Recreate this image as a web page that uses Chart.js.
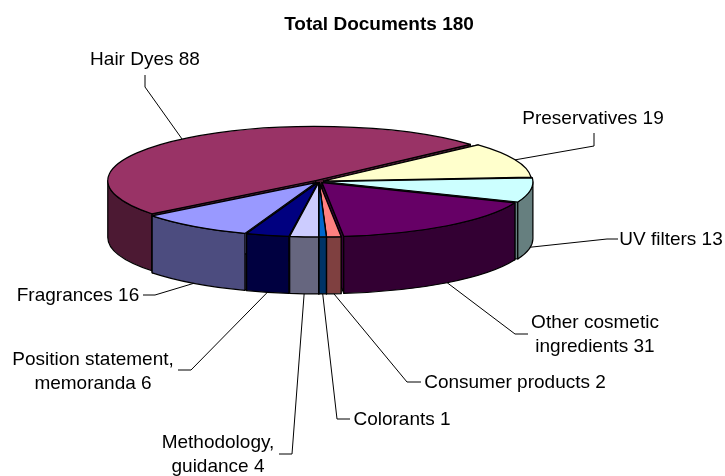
<!DOCTYPE html>
<html>
<head>
<meta charset="utf-8">
<style>
  html, body { margin: 0; padding: 0; background: #fff; }
  canvas { display: block; }
</style>
<script src="https://cdn.jsdelivr.net/npm/chart.js@4/dist/chart.umd.min.js"></script>
</head>
<body>
<canvas id="pie3d" width="725" height="476"></canvas>
<script>
const categories = ['Hair Dyes', 'Preservatives', 'UV filters', 'Other cosmetic ingredients',
  'Consumer products', 'Colorants', 'Methodology, guidance', 'Position statement, memoranda', 'Fragrances'];
const documents = [88, 19, 13, 31, 2, 1, 4, 6, 16];
const topColors = ['#993366', '#FFFFCC', '#CCFFFF', '#660066', '#FF8080', '#0066CC', '#CCCCFF', '#000080', '#9999FF'];
const explode = [5, 5, 6, 5, 5, 5, 5, 5, 5];
const chartTitle = 'Total Documents 180';

// where the flattened pie sits on the page
const VIEW = { cx: 319, cy: 181.5, tilt: 0.26, depth: 57, radius: 208 };

// label placement, one entry per category: text lines, text centre, leader elbows
const labelLayout = [
  { lines: ['Hair Dyes 88'], x: 145, y: 60, leader: [[145, 87], [145, 75]] },
  { lines: ['Preservatives 19'], x: 593, y: 119, leader: [[594, 146], [594, 133]] },
  { lines: ['UV filters 13'], x: 671, y: 240, leader: [[607, 239], [618, 239]] },
  { lines: ['Other cosmetic', 'ingredients 31'], x: 595, y: 323, leader: [[515, 334], [528, 334]] },
  { lines: ['Consumer products 2'], x: 515, y: 383, leader: [[407, 382], [421, 382]] },
  { lines: ['Colorants 1'], x: 402, y: 420, leader: [[337, 419], [350, 419]] },
  { lines: ['Methodology,', 'guidance 4'], x: 218, y: 443, leader: [[292, 454], [279, 454]] },
  { lines: ['Position statement,', 'memoranda 6'], x: 93, y: 360, leader: [[191, 370], [178, 370]] },
  { lines: ['Fragrances 16'], x: 78, y: 296, leader: [[155, 295], [143, 295]] }
];

const halfTone = hex => {
  const n = parseInt(hex.slice(1), 16);
  return `rgb(${(n >> 16) >> 1},${((n >> 8) & 255) >> 1},${(n & 255) >> 1})`;
};

const TWO_PI = Math.PI * 2;

// the parts of [a0, a1] that face the viewer
const frontRanges = (a0, a1) => {
  const out = [];
  for (let k = -1; k < 3; k++) {
    const from = Math.max(a0, k * TWO_PI);
    const to = Math.min(a1, k * TWO_PI + Math.PI);
    if (to > from) out.push([from, to]);
  }
  return out;
};

const drawSlice = (ctx, arc, i) => {
  const { tilt, depth } = VIEW;
  const a0 = arc.startAngle;
  const a1 = arc.endAngle;
  const mid = (a0 + a1) / 2;
  const R = arc.outerRadius;
  const off = arc.options.offset;
  const cx = VIEW.cx + Math.cos(mid) * off;
  const cy = VIEW.cy + Math.sin(mid) * off * tilt;
  const top = topColors[i];
  const wall = halfTone(top);

  ctx.lineWidth = 1.2;
  ctx.lineJoin = 'round';
  ctx.strokeStyle = '#000';

  // radial cut faces
  [a0, a1].forEach(a => {
    const rx = cx + Math.cos(a) * R;
    const ry = cy + Math.sin(a) * R * tilt;
    ctx.beginPath();
    ctx.moveTo(cx, cy);
    ctx.lineTo(rx, ry);
    ctx.lineTo(rx, ry + depth);
    ctx.lineTo(cx, cy + depth);
    ctx.closePath();
    ctx.fillStyle = wall;
    ctx.fill();
    ctx.stroke();
  });

  // outer wall
  frontRanges(a0, a1).forEach(([from, to]) => {
    ctx.beginPath();
    ctx.ellipse(cx, cy, R, R * tilt, 0, from, to);
    ctx.ellipse(cx, cy + depth, R, R * tilt, 0, to, from, true);
    ctx.closePath();
    ctx.fillStyle = wall;
    ctx.fill();
    ctx.stroke();
  });

  // top face
  ctx.beginPath();
  ctx.moveTo(cx, cy);
  ctx.ellipse(cx, cy, R, R * tilt, 0, a0, a1);
  ctx.closePath();
  ctx.fillStyle = top;
  ctx.fill();
  ctx.stroke();
};

const pie3dPlugin = {
  id: 'pie3d',
  beforeDatasetsDraw(chart) {
    const ctx = chart.ctx;
    const arcs = chart.getDatasetMeta(0).data;
    const order = arcs.map((arc, i) => i).sort((p, q) => {
      const m = i => (arcs[i].startAngle + arcs[i].endAngle) / 2;
      return Math.sin(m(p)) - Math.sin(m(q));
    });
    ctx.save();
    order.forEach(i => drawSlice(ctx, arcs[i], i));
    ctx.restore();
    return false;
  },
  afterDraw(chart) {
    const ctx = chart.ctx;
    const arcs = chart.getDatasetMeta(0).data;
    ctx.save();
    arcs.forEach((arc, i) => {
      const mid = (arc.startAngle + arc.endAngle) / 2;
      // leader starts on the rim of the exploded slice
      const rim = arc.outerRadius + arc.options.offset;
      const sx = VIEW.cx + Math.cos(mid) * rim;
      const sy = VIEW.cy + Math.sin(mid) * rim * VIEW.tilt + (Math.sin(mid) > 0 ? VIEW.depth : 0);
      const place = labelLayout[i];
      ctx.beginPath();
      ctx.moveTo(sx, sy);
      place.leader.forEach(([x, y]) => ctx.lineTo(x, y));
      ctx.lineWidth = 1;
      ctx.strokeStyle = '#000';
      ctx.stroke();
      ctx.fillStyle = '#000';
      ctx.font = '19px "Liberation Sans", Arial, sans-serif';
      ctx.textAlign = 'center';
      ctx.textBaseline = 'middle';
      place.lines.forEach((line, n) => ctx.fillText(line, place.x, place.y + n * 24));
    });
    ctx.restore();
  }
};

new Chart(document.getElementById('pie3d'), {
  type: 'pie',
  data: {
    labels: categories,
    datasets: [{
      data: documents,
      backgroundColor: topColors,
      offset: explode
    }]
  },
  options: {
    responsive: false,
    animation: false,
    events: [],
    rotation: 232,
    radius: VIEW.radius,
    layout: { padding: { left: 33 } },
    plugins: {
      legend: { display: false },
      tooltip: { enabled: false },
      title: {
        display: true,
        text: chartTitle,
        color: '#000',
        font: { family: '"Liberation Sans", Arial, sans-serif', size: 19, weight: 'bold' },
        padding: { top: 13, bottom: 0 }
      }
    }
  },
  plugins: [pie3dPlugin]
});
</script>
</body>
</html>
